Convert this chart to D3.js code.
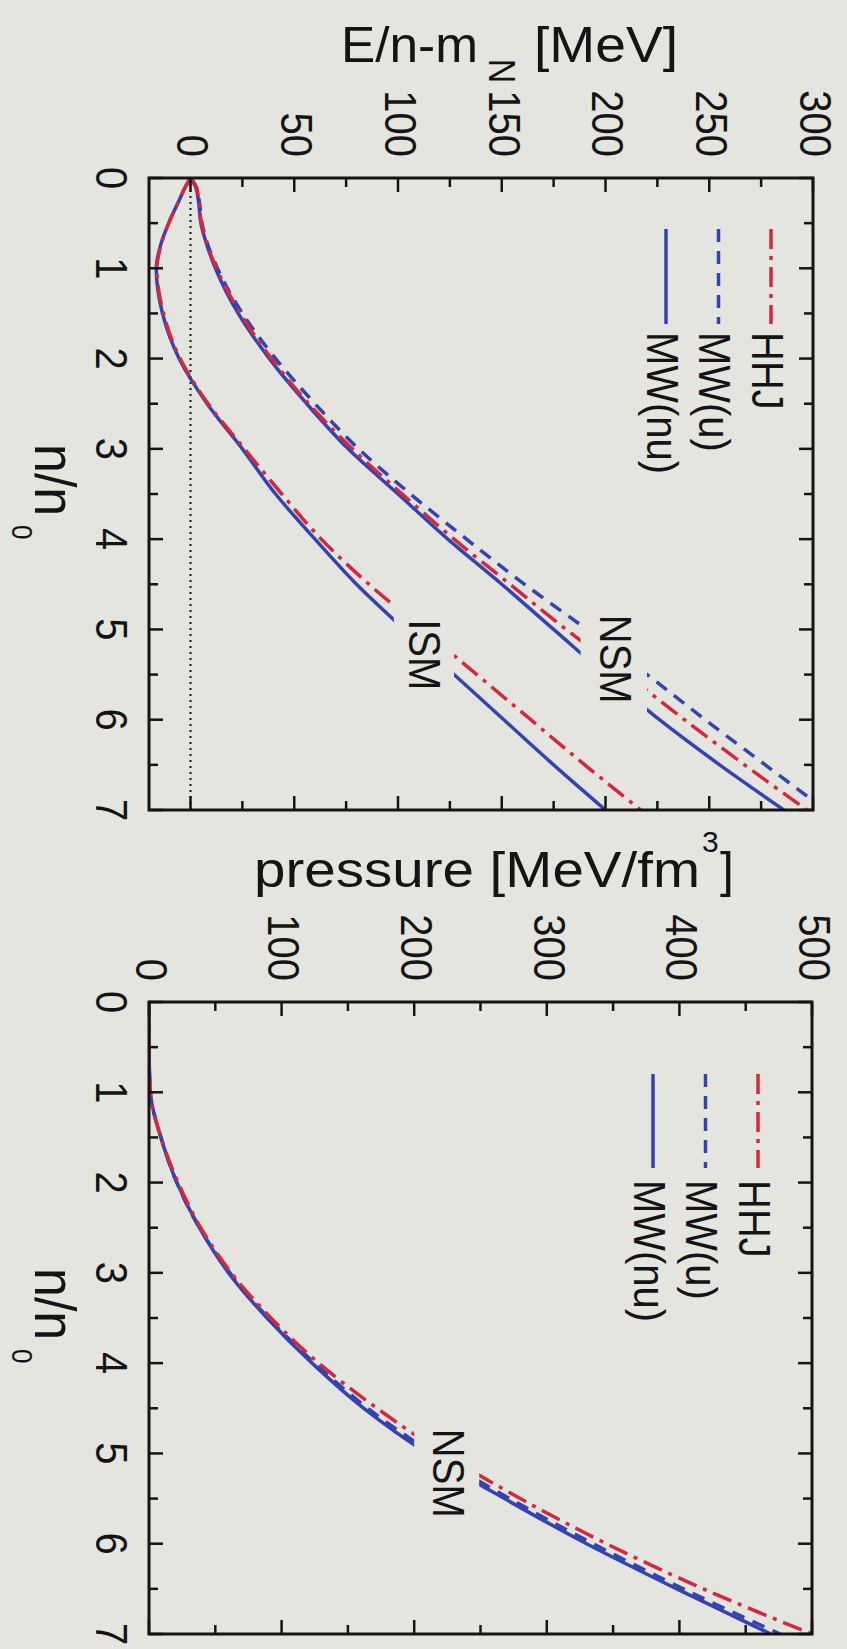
<!DOCTYPE html>
<html><head><meta charset="utf-8">
<script src="https://cdn.jsdelivr.net/npm/d3@7"></script>
<style>html,body{margin:0;padding:0;background:#e5e5df;} svg{display:block;}</style>
</head><body>
<svg id="c" width="847" height="1649"></svg>
<script>
// ---------------- data ----------------
const nGridE = [0, 0.1, 0.25, 0.5, 0.75, 1, 1.5, 2, 2.5, 3, 3.5, 4, 4.5, 5, 5.5, 6, 6.5, 7];
// E/n - m_N [MeV], isospin-symmetric matter (ISM)
const ismMWnu = [0, -2.5, -5.5, -10.5, -14.5, -16.5, -13.5, -5.5, 8, 25, 41, 60, 80, 103, 127, 151, 175, 200];
const ismHHJ  = [0, -2.5, -5.5, -10.5, -14.3, -16.2, -13, -5, 8.5, 26, 44, 63, 86, 112, 138, 164, 190, 217];
// neutron star matter (NSM)
const nsmMWnu = [0, 2.5, 3.8, 5, 8, 12, 23, 38, 56, 76, 100, 124, 150, 175, 200, 226, 255, 286];
const nsmMWu  = [0, 2.8, 4.2, 5.5, 8.5, 13, 25, 41, 60, 81, 106, 133, 161, 191, 220, 248, 277, 306];
const nsmHHJ  = [0, 2.8, 4.0, 5.2, 8.2, 12.5, 24, 39, 57, 78, 102, 127, 154, 181, 210, 238, 267, 297];

const nGridP = [0, 0.5, 1, 1.5, 2, 2.5, 3, 3.5, 4, 4.5, 5, 5.5, 6, 6.5, 7];
// pressure [MeV/fm^3], NSM
const pMWnu = [0, 0, 1, 9, 21, 38, 60, 89, 123, 162, 210, 268, 330, 398, 469];
const pMWu  = [0, 0, 1, 9, 21, 38, 61, 90, 125, 165, 214, 272, 335, 403, 476];
const pHHJ  = [0, 0, 1, 9, 22, 39, 62, 92, 128, 172, 222, 280, 345, 418, 500];

const legendNames = ["HHJ", "MW(u)", "MW(nu)"];
const eTickLabels = ["0", "50", "100", "150", "200", "250", "300"];
const pTickLabels = ["0", "100", "200", "300", "400", "500"];
const nTickLabels = ["0", "1", "2", "3", "4", "5", "6", "7"];

// ---------------- layout / style ----------------
const W = 847, H = 1649;
const BG = "#e5e5df";
const FONT = "'Liberation Sans', Arial, Helvetica, sans-serif";
const SX = 1.1;
const INK = "#141414";
const styles = {
  "HHJ":    {color: "#d5283c", dash: "20,7,4,7"},
  "MW(u)":  {color: "#3443b3", dash: "13,9"},
  "MW(nu)": {color: "#3443b3", dash: null}
};

const svg = d3.select("#c");
svg.append("rect").attr("width", W).attr("height", H).attr("fill", BG);
const defs = svg.append("defs");

function rtext(g, x, y, str, size, anchor, baseline) {
  return g.append("text")
    .attr("transform", `translate(${x},${y}) scale(${SX},1) rotate(90)`)
    .attr("font-size", size).attr("font-family", FONT)
    .attr("text-anchor", anchor || "middle")
    .attr("dominant-baseline", baseline || "auto")
    .attr("fill", INK).text(str);
}
function utext(g, x, y, str, size, len) {
  const t = g.append("text").attr("x", x).attr("y", y)
    .attr("font-size", size).attr("font-family", FONT).attr("fill", INK).text(str);
  if (len) t.attr("textLength", len).attr("lengthAdjust", "spacingAndGlyphs");
  return t;
}

function panel(cfg) {
  const g = svg.append("g");
  const nS = cfg.nS, vS = cfg.vS;
  const [x0, x1] = vS.range(), [y0, y1] = nS.range();
  const clipId = cfg.id + "-clip";
  defs.append("clipPath").attr("id", clipId).append("rect")
    .attr("x", x0).attr("y", y0).attr("width", x1 - x0).attr("height", y1 - y0);
  const plot = g.append("g").attr("clip-path", `url(#${clipId})`);

  if (cfg.zeroLine) {
    plot.append("line").attr("x1", vS(0)).attr("x2", vS(0)).attr("y1", y0).attr("y2", y1)
      .attr("stroke", INK).attr("stroke-width", 2).attr("stroke-dasharray", "2,4");
  }
  const line = d3.line().x(d => vS(d.v)).y(d => nS(d.n)).curve(d3.curveMonotoneY);
  cfg.series.forEach(s => {
    const st = styles[s.name];
    const pts = s.values.map((v, i) => ({n: s.n[i], v}));
    plot.append("path").attr("d", line(pts)).attr("fill", "none")
      .attr("stroke", st.color).attr("stroke-width", 3.5)
      .attr("stroke-dasharray", st.dash).attr("stroke-linecap", "butt");
  });
  cfg.labels.forEach(L => {
    const bx0 = vS(L.v[0]), bx1 = vS(L.v[1]), by0 = nS(L.n[0]), by1 = nS(L.n[1]);
    plot.append("rect").attr("x", bx0).attr("y", by0).attr("width", bx1 - bx0).attr("height", by1 - by0).attr("fill", BG);
    rtext(g, vS(L.at[0]), nS(L.at[1]), L.text, 40, "middle", "central");
  });
  // legend
  legendNames.forEach((name, i) => {
    const st = styles[name];
    const lx = x1 - cfg.leg.dx - i * 52.5;
    g.append("line").attr("x1", lx).attr("x2", lx).attr("y1", y0 + cfg.leg.s0).attr("y2", y0 + cfg.leg.s1)
      .attr("stroke", st.color).attr("stroke-width", 3.5).attr("stroke-dasharray", st.dash);
    rtext(g, lx - 4, y0 + cfg.leg.t, name, 40, "start", "central");
  });
  // ticks
  const tk = g.append("g").attr("stroke", INK).attr("stroke-width", 2.5);
  d3.range(0, 7.01, 0.5).forEach(n => {
    const len = Math.abs(n - Math.round(n)) < 1e-6 ? 14 : 9;
    const y = nS(n);
    tk.append("line").attr("x1", x0).attr("x2", x0 + len).attr("y1", y).attr("y2", y);
    tk.append("line").attr("x1", x1).attr("x2", x1 - len).attr("y1", y).attr("y2", y);
  });
  cfg.vTicks.forEach(v => {
    const len = (Math.round(v / cfg.vMinorStep) % 2 === 0) ? 14 : 9;
    const x = vS(v);
    tk.append("line").attr("x1", x).attr("x2", x).attr("y1", y0).attr("y2", y0 + len);
    tk.append("line").attr("x1", x).attr("x2", x).attr("y1", y1).attr("y2", y1 - len);
  });
  g.append("rect").attr("x", x0).attr("y", y0).attr("width", x1 - x0).attr("height", y1 - y0)
    .attr("fill", "none").attr("stroke", INK).attr("stroke-width", 3);
  nTickLabels.forEach(t => rtext(g, x0 - 53.5, nS(+t), t, 40, "middle", "auto"));
  cfg.vLabels.forEach(t => rtext(g, vS(+t) + 2, y0 - 21, t, 40, "end", "central"));
  const ty = (y0 + y1) / 2;
  rtext(g, 35, ty - 50, "n/n", 52, "start", "auto");
  rtext(g, 12, ty + 31, "0", 26, "start", "auto");
}

const nTop = d3.scaleLinear().domain([0, 7]).range([178, 810]);
const eX = d3.scaleLinear().domain([-20, 300]).range([149, 813]);
panel({
  id: "top", nS: nTop, vS: eX, zeroLine: true, leg: {dx: 42, s0: 51, s1: 146, t: 154},
  vTicks: d3.range(0, 300.1, 25), vMinorStep: 25, vLabels: eTickLabels,
  series: [
    {name: "MW(nu)", n: nGridE, values: ismMWnu},
    {name: "HHJ", n: nGridE, values: ismHHJ},
    {name: "MW(nu)", n: nGridE, values: nsmMWnu},
    {name: "MW(u)", n: nGridE, values: nsmMWu},
    {name: "HHJ", n: nGridE, values: nsmHHJ}
  ],
  labels: [
    {text: "ISM", v: [98, 127], n: [4.62, 5.9], at: [112.5, 5.28]},
    {text: "NSM", v: [188, 220], n: [4.62, 6.0], at: [204.5, 5.33]}
  ]
});

const nBot = d3.scaleLinear().domain([0, 7]).range([1002, 1634]);
const pX = d3.scaleLinear().domain([0, 500]).range([149, 812]);
panel({
  id: "bot", nS: nBot, vS: pX, zeroLine: false, leg: {dx: 54, s0: 72, s1: 166, t: 178},
  vTicks: d3.range(0, 500.1, 50), vMinorStep: 50, vLabels: pTickLabels,
  series: [
    {name: "MW(nu)", n: nGridP, values: pMWnu},
    {name: "MW(u)", n: nGridP, values: pMWu},
    {name: "HHJ", n: nGridP, values: pHHJ}
  ],
  labels: [
    {text: "NSM", v: [200, 249], n: [4.6, 5.85], at: [225.5, 5.22]}
  ]
});

const tg = svg.append("g");
utext(tg, 341, 62, "E/n-m", 50, 137);
rtext(tg, 502, 71, "N", 34, "middle", "central");
utext(tg, 534, 62, "[MeV]", 50, 144);
utext(tg, 254, 887, "pressure [MeV/fm", 50, 446);
utext(tg, 702, 852, "3", 30);
utext(tg, 720, 887, "]", 50);
</script>
</body></html>
